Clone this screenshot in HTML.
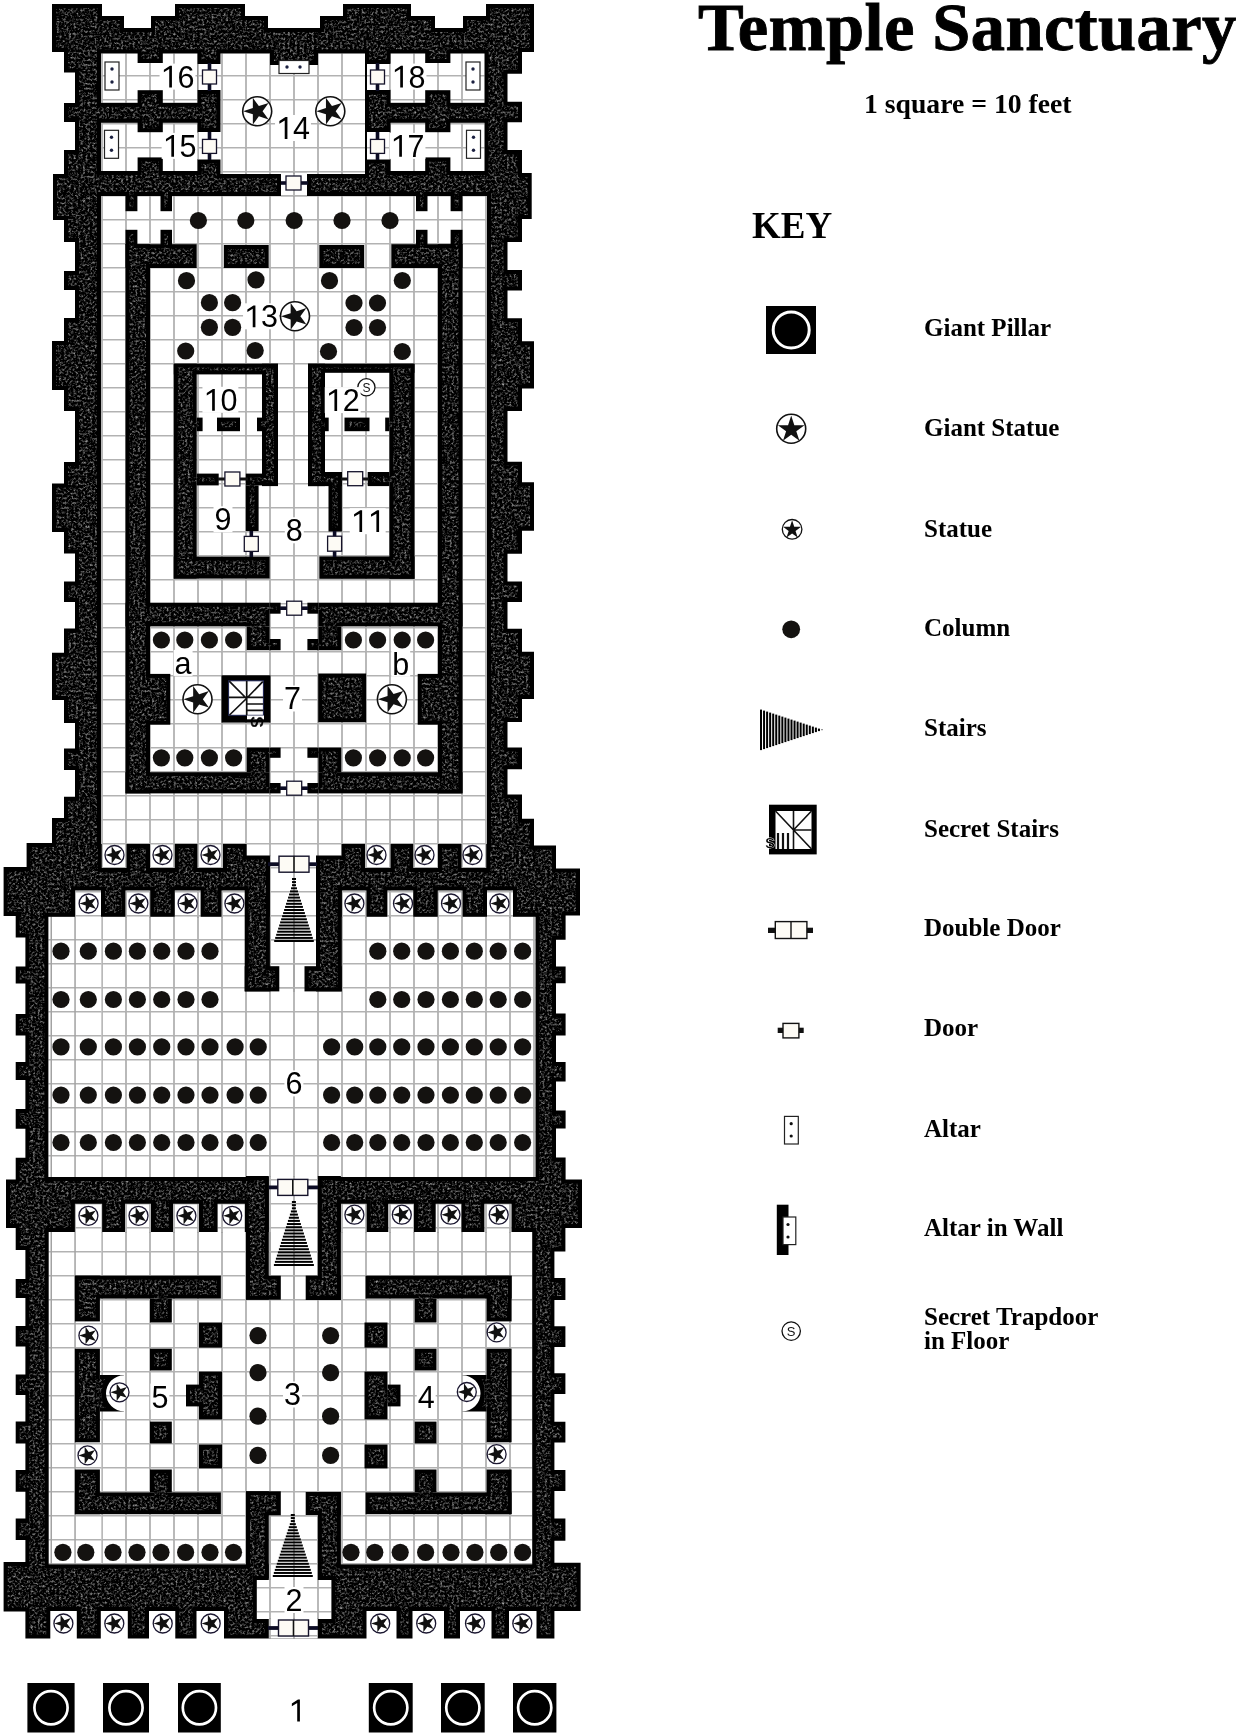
<!DOCTYPE html>
<html><head><meta charset="utf-8"><style>
html,body{margin:0;padding:0;background:#fff;}
body{width:1239px;height:1736px;position:relative;overflow:hidden;will-change:transform;}
.t{position:absolute;font-family:"Liberation Serif",serif;font-weight:bold;white-space:nowrap;color:#000;line-height:1.2;}
.k{position:absolute;left:924px;font-family:"Liberation Serif",serif;font-weight:bold;font-size:25px;white-space:nowrap;color:#000;line-height:30px;}
</style></head><body>
<svg width="600" height="1736" viewBox="0 0 600 1736" style="position:absolute;left:0;top:0"><defs>
<pattern id="grid" patternUnits="userSpaceOnUse" x="6" y="4" width="24" height="24">
<rect x="-0.75" y="0" width="1.5" height="24" fill="#a2a2a2"/><rect x="0" y="-1" width="24" height="1.5" fill="#b2b2b2"/>
<rect x="23.25" y="0" width="1.5" height="24" fill="#a2a2a2"/><rect x="0" y="23" width="24" height="1.5" fill="#b2b2b2"/>
</pattern>
<pattern id="gridh" patternUnits="userSpaceOnUse" x="6" y="4" width="24" height="24"><rect x="0" y="-1" width="24" height="1.5" fill="#b2b2b2"/><rect x="0" y="23" width="24" height="1.5" fill="#b2b2b2"/></pattern>
<mask id="fm" maskUnits="userSpaceOnUse" x="0" y="0" width="600" height="1736">
<rect x="0" y="0" width="600" height="1736" fill="#fff"/>
<g fill="#000"><rect x="220.5" y="53.5" width="73.5" height="120.5"/><rect x="294.0" y="53.5" width="71.0" height="120.5"/><rect x="101.0" y="53.5" width="96.4" height="49.3"/><rect x="101.0" y="122.8" width="96.4" height="48.2"/><rect x="390.6" y="53.5" width="93.9" height="49.3"/><rect x="390.6" y="122.8" width="93.9" height="48.2"/><rect x="197.4" y="64.0" width="23.6" height="26.0"/><rect x="367.0" y="64.0" width="23.6" height="26.0"/><rect x="197.4" y="132.0" width="23.6" height="27.5"/><rect x="367.0" y="132.0" width="23.6" height="27.5"/><rect x="281.0" y="172.0" width="26.0" height="25.0"/><rect x="101.0" y="196.0" width="386.0" height="648.0"/><rect x="101.8" y="843.0" width="24.6" height="25.0"/><rect x="461.6" y="843.0" width="24.6" height="25.0"/><rect x="150.0" y="843.0" width="24.7" height="25.0"/><rect x="413.3" y="843.0" width="24.7" height="25.0"/><rect x="197.5" y="843.0" width="25.5" height="25.0"/><rect x="365.0" y="843.0" width="25.5" height="25.0"/><rect x="246.7" y="843.0" width="94.8" height="13.5"/><rect x="269.9" y="855.0" width="46.1" height="137.0"/><rect x="75.0" y="890.5" width="26.0" height="27.5"/><rect x="487.0" y="890.5" width="26.0" height="27.5"/><rect x="125.5" y="890.5" width="24.7" height="27.5"/><rect x="437.8" y="890.5" width="24.7" height="27.5"/><rect x="174.8" y="890.5" width="25.8" height="27.5"/><rect x="387.4" y="890.5" width="25.8" height="27.5"/><rect x="221.6" y="890.5" width="24.6" height="27.5"/><rect x="341.8" y="890.5" width="24.6" height="27.5"/><rect x="48.4" y="916.8" width="487.1" height="260.2"/><rect x="268.8" y="1176.0" width="49.1" height="124.0"/><rect x="74.9" y="1203.8" width="27.2" height="29.2"/><rect x="125.0" y="1203.8" width="26.0" height="29.2"/><rect x="173.0" y="1203.8" width="26.0" height="29.2"/><rect x="217.6" y="1203.8" width="27.2" height="29.2"/><rect x="341.0" y="1203.8" width="25.6" height="29.2"/><rect x="388.3" y="1203.8" width="25.7" height="29.2"/><rect x="435.7" y="1203.8" width="25.7" height="29.2"/><rect x="484.4" y="1203.8" width="27.1" height="29.2"/><rect x="48.7" y="1232.0" width="483.5" height="332.3"/><rect x="268.8" y="1515.0" width="49.1" height="65.0"/><rect x="256.8" y="1578.5" width="74.6" height="40.5"/><rect x="268.8" y="1618.0" width="49.2" height="20.5"/></g>
</mask>
<filter id="tex" color-interpolation-filters="sRGB" filterUnits="userSpaceOnUse" x="0" y="0" width="600" height="1736">
<feTurbulence type="fractalNoise" baseFrequency="0.42" numOctaves="3" seed="11" result="n"/>
<feColorMatrix in="n" type="matrix" values="1.35 0 0 0 -0.62  1.35 0 0 0 -0.62  1.35 0 0 0 -0.62  0 0 0 0 1" result="spk"/>
<feMorphology in="SourceAlpha" operator="erode" radius="4" result="inner"/>
<feComposite in="spk" in2="inner" operator="in" result="spkIn"/>
<feMerge><feMergeNode in="SourceGraphic"/><feMergeNode in="spkIn"/></feMerge>
</filter>
</defs><g fill="#fff"><rect x="220.5" y="53.5" width="73.5" height="120.5"/><rect x="294.0" y="53.5" width="71.0" height="120.5"/><rect x="101.0" y="53.5" width="96.4" height="49.3"/><rect x="101.0" y="122.8" width="96.4" height="48.2"/><rect x="390.6" y="53.5" width="93.9" height="49.3"/><rect x="390.6" y="122.8" width="93.9" height="48.2"/><rect x="197.4" y="64.0" width="23.6" height="26.0"/><rect x="367.0" y="64.0" width="23.6" height="26.0"/><rect x="197.4" y="132.0" width="23.6" height="27.5"/><rect x="367.0" y="132.0" width="23.6" height="27.5"/><rect x="281.0" y="172.0" width="26.0" height="25.0"/><rect x="101.0" y="196.0" width="386.0" height="648.0"/><rect x="101.8" y="843.0" width="24.6" height="25.0"/><rect x="461.6" y="843.0" width="24.6" height="25.0"/><rect x="150.0" y="843.0" width="24.7" height="25.0"/><rect x="413.3" y="843.0" width="24.7" height="25.0"/><rect x="197.5" y="843.0" width="25.5" height="25.0"/><rect x="365.0" y="843.0" width="25.5" height="25.0"/><rect x="246.7" y="843.0" width="94.8" height="13.5"/><rect x="269.9" y="855.0" width="46.1" height="137.0"/><rect x="75.0" y="890.5" width="26.0" height="27.5"/><rect x="487.0" y="890.5" width="26.0" height="27.5"/><rect x="125.5" y="890.5" width="24.7" height="27.5"/><rect x="437.8" y="890.5" width="24.7" height="27.5"/><rect x="174.8" y="890.5" width="25.8" height="27.5"/><rect x="387.4" y="890.5" width="25.8" height="27.5"/><rect x="221.6" y="890.5" width="24.6" height="27.5"/><rect x="341.8" y="890.5" width="24.6" height="27.5"/><rect x="48.4" y="916.8" width="487.1" height="260.2"/><rect x="268.8" y="1176.0" width="49.1" height="124.0"/><rect x="74.9" y="1203.8" width="27.2" height="29.2"/><rect x="125.0" y="1203.8" width="26.0" height="29.2"/><rect x="173.0" y="1203.8" width="26.0" height="29.2"/><rect x="217.6" y="1203.8" width="27.2" height="29.2"/><rect x="341.0" y="1203.8" width="25.6" height="29.2"/><rect x="388.3" y="1203.8" width="25.7" height="29.2"/><rect x="435.7" y="1203.8" width="25.7" height="29.2"/><rect x="484.4" y="1203.8" width="27.1" height="29.2"/><rect x="48.7" y="1232.0" width="483.5" height="332.3"/><rect x="268.8" y="1515.0" width="49.1" height="65.0"/><rect x="256.8" y="1578.5" width="74.6" height="40.5"/><rect x="268.8" y="1618.0" width="49.2" height="20.5"/></g><g fill="url(#grid)"><rect x="220.5" y="53.5" width="73.5" height="120.5"/><rect x="294.0" y="53.5" width="71.0" height="120.5"/><rect x="101.0" y="53.5" width="96.4" height="49.3"/><rect x="101.0" y="122.8" width="96.4" height="48.2"/><rect x="390.6" y="53.5" width="93.9" height="49.3"/><rect x="390.6" y="122.8" width="93.9" height="48.2"/><rect x="197.4" y="64.0" width="23.6" height="26.0"/><rect x="367.0" y="64.0" width="23.6" height="26.0"/><rect x="197.4" y="132.0" width="23.6" height="27.5"/><rect x="367.0" y="132.0" width="23.6" height="27.5"/><rect x="281.0" y="172.0" width="26.0" height="25.0"/><rect x="101.0" y="196.0" width="386.0" height="648.0"/><rect x="101.8" y="843.0" width="24.6" height="25.0"/><rect x="461.6" y="843.0" width="24.6" height="25.0"/><rect x="150.0" y="843.0" width="24.7" height="25.0"/><rect x="413.3" y="843.0" width="24.7" height="25.0"/><rect x="197.5" y="843.0" width="25.5" height="25.0"/><rect x="365.0" y="843.0" width="25.5" height="25.0"/><rect x="246.7" y="843.0" width="94.8" height="13.5"/><rect x="269.9" y="855.0" width="46.1" height="137.0"/><rect x="75.0" y="890.5" width="26.0" height="27.5"/><rect x="487.0" y="890.5" width="26.0" height="27.5"/><rect x="125.5" y="890.5" width="24.7" height="27.5"/><rect x="437.8" y="890.5" width="24.7" height="27.5"/><rect x="174.8" y="890.5" width="25.8" height="27.5"/><rect x="387.4" y="890.5" width="25.8" height="27.5"/><rect x="221.6" y="890.5" width="24.6" height="27.5"/><rect x="341.8" y="890.5" width="24.6" height="27.5"/><rect x="48.4" y="916.8" width="487.1" height="260.2"/><rect x="268.8" y="1176.0" width="49.1" height="124.0"/><rect x="74.9" y="1203.8" width="27.2" height="29.2"/><rect x="125.0" y="1203.8" width="26.0" height="29.2"/><rect x="173.0" y="1203.8" width="26.0" height="29.2"/><rect x="217.6" y="1203.8" width="27.2" height="29.2"/><rect x="341.0" y="1203.8" width="25.6" height="29.2"/><rect x="388.3" y="1203.8" width="25.7" height="29.2"/><rect x="435.7" y="1203.8" width="25.7" height="29.2"/><rect x="484.4" y="1203.8" width="27.1" height="29.2"/><rect x="48.7" y="1232.0" width="483.5" height="332.3"/><rect x="268.8" y="1515.0" width="49.1" height="65.0"/><rect x="256.8" y="1578.5" width="74.6" height="40.5"/><rect x="268.8" y="1618.0" width="49.2" height="20.5"/></g><rect x="48.4" y="890.5" width="52.9" height="286.5" fill="#fff"/><rect x="48.4" y="890.5" width="52.9" height="286.5" fill="url(#gridh)"/><rect x="50.5" y="890.5" width="1.5" height="286.5" fill="#a2a2a2"/><rect x="74.3" y="890.5" width="1.5" height="286.5" fill="#a2a2a2"/><rect x="48.4" y="1203.8" width="52.9" height="360.5" fill="#fff"/><rect x="48.4" y="1203.8" width="52.9" height="360.5" fill="url(#gridh)"/><rect x="50.5" y="1203.8" width="1.5" height="360.5" fill="#a2a2a2"/><rect x="74.3" y="1203.8" width="1.5" height="360.5" fill="#a2a2a2"/><g filter="url(#tex)"><path d="M52 4 L102 4 L102 16 L124 16 L124 28 L151 28 L151 16 L175 16 L175 4 L245 4 L245 16 L268 16 L268 28 L320 28 L320 16 L343 16 L343 4 L411 4 L411 16 L435 16 L435 28 L463 28 L463 16 L486 16 L486 4 L534 4 L534 52 L522 52 L522 73.8 L507.5 73.8 L507.5 101.7 L522 101.7 L522 122.2 L507.5 122.2 L507.5 150 L522 150 L522 173 L531.7 173 L531.7 219 L522 219 L522 242 L507.5 242 L507.5 270 L522 270 L522 290.5 L507.5 290.5 L507.5 318.3 L522 318.3 L522 341.3 L534 341.3 L534 388.5 L522 388.5 L522 411 L507.5 411 L507.5 461.7 L522 461.7 L522 482.3 L534 482.3 L534 530.7 L522 530.7 L522 553.7 L507.5 553.7 L507.5 581.6 L522 581.6 L522 602 L507.5 602 L507.5 628.8 L522 628.8 L522 651.8 L534 651.8 L534 699 L522 699 L522 722 L507.5 722 L507.5 747.4 L522 747.4 L522 769.2 L507.5 769.2 L507.5 794.5 L522 794.5 L522 818.7 L534 818.7 L534 845.4 L556 845.4 L556 868.4 L580 868.4 L580 915.6 L565.6 915.6 L565.6 939.8 L556 939.8 L556 966.4 L565.6 966.4 L565.6 983.3 L556 983.3 L556 1013.6 L565.6 1013.6 L565.6 1035.4 L556 1035.4 L556 1062 L565.6 1062 L565.6 1081.4 L556 1081.4 L556 1110.4 L565.6 1110.4 L565.6 1128.6 L556 1128.6 L556 1157.6 L565.6 1157.6 L565.6 1179.5 L582 1179.5 L582 1228 L565.4 1228 L565.4 1251.6 L554.4 1251.6 L554.4 1278 L565.4 1278 L565.4 1300 L554.4 1300 L554.4 1326.3 L565.4 1326.3 L565.4 1347 L554.4 1347 L554.4 1373.3 L565.4 1373.3 L565.4 1394 L554.4 1394 L554.4 1421.7 L565.4 1421.7 L565.4 1442.5 L554.4 1442.5 L554.4 1470 L565.4 1470 L565.4 1491 L554.4 1491 L554.4 1518.5 L565.4 1518.5 L565.4 1540.7 L554.4 1540.7 L554.4 1562.8 L580.6 1562.8 L580.6 1611 L554.4 1611 L554.4 1638.5 L536.5 1638.5 L536.5 1611 L509 1611 L509 1638.5 L491.5 1638.5 L491.5 1611 L460 1611 L460 1638.5 L444 1638.5 L444 1611 L412.5 1611 L412.5 1638.5 L396.5 1638.5 L396.5 1611 L366.5 1611 L366.5 1638.5 L224 1638.5 L224 1611 L196.5 1611 L196.5 1638.5 L175.3 1638.5 L175.3 1611 L149 1611 L149 1638.5 L127.8 1638.5 L127.8 1611 L100.8 1611 L100.8 1638.5 L76.8 1638.5 L76.8 1611 L50.3 1611 L50.3 1638.5 L25.4 1638.5 L25.4 1611.4 L3.6 1611.4 L3.6 1562 L25.4 1562 L25.4 1540 L15.7 1540 L15.7 1518.4 L25.4 1518.4 L25.4 1491.8 L15.7 1491.8 L15.7 1470 L25.4 1470 L25.4 1443.4 L15.7 1443.4 L15.7 1421.6 L25.4 1421.6 L25.4 1395 L15.7 1395 L15.7 1374.5 L25.4 1374.5 L25.4 1346.6 L15.7 1346.6 L15.7 1326 L25.4 1326 L25.4 1298 L15.7 1298 L15.7 1279 L25.4 1279 L25.4 1250 L15.7 1250 L15.7 1228 L6 1228 L6 1179.5 L15.7 1179.5 L15.7 1157.8 L25.4 1157.8 L25.4 1128.7 L15.7 1128.7 L15.7 1109 L25.4 1109 L25.4 1080 L15.7 1080 L15.7 1062 L25.4 1062 L25.4 1035.6 L15.7 1035.6 L15.7 1014 L25.4 1014 L25.4 983.6 L15.7 983.6 L15.7 966.6 L25.4 966.6 L25.4 937.6 L15.7 937.6 L15.7 916 L3.6 916 L3.6 867 L26.6 867 L26.6 843 L52 843 L52 818 L64 818 L64 796.8 L75 796.8 L75 770 L64 770 L64 748.4 L75 748.4 L75 723 L64 723 L64 700 L52 700 L52 652.8 L64 652.8 L64 628.6 L75 628.6 L75 602 L64 602 L64 581.5 L75 581.5 L75 553.6 L64 553.6 L64 532 L52 532 L52 483.5 L64 483.5 L64 462 L75 462 L75 411 L64 411 L64 390 L52 390 L52 341 L64 341 L64 318 L75 318 L75 290 L64 290 L64 271 L75 271 L75 242 L64 242 L64 220 L53 220 L53 174 L64 174 L64 150 L75 150 L75 122 L64 122 L64 103 L75 103 L75 72.6 L64 72.6 L64 52 L52 52 L52 4 Z" fill="#000" mask="url(#fm)"/><g fill="#000"><rect x="137.6" y="52.0" width="25.2" height="11.0"/><rect x="425.2" y="52.0" width="25.2" height="11.0"/><rect x="137.6" y="90.2" width="25.2" height="13.8"/><rect x="425.2" y="90.2" width="25.2" height="13.8"/><rect x="137.6" y="121.5" width="25.2" height="10.7"/><rect x="425.2" y="121.5" width="25.2" height="10.7"/><rect x="137.6" y="157.4" width="25.2" height="14.6"/><rect x="425.2" y="157.4" width="25.2" height="14.6"/><rect x="270.0" y="52.0" width="48.0" height="13.0"/><rect x="125.5" y="195.0" width="11.9" height="16.2"/><rect x="450.6" y="195.0" width="11.9" height="16.2"/><rect x="160.5" y="195.0" width="11.5" height="16.2"/><rect x="416.0" y="195.0" width="11.5" height="16.2"/><rect x="125.5" y="229.8" width="11.9" height="15.2"/><rect x="450.6" y="229.8" width="11.9" height="15.2"/><rect x="160.5" y="229.8" width="11.5" height="15.2"/><rect x="416.0" y="229.8" width="11.5" height="15.2"/><rect x="125.5" y="244.2" width="24.5" height="549.2"/><rect x="438.0" y="244.2" width="24.5" height="549.2"/><rect x="125.5" y="244.2" width="71.2" height="23.8"/><rect x="391.3" y="244.2" width="71.2" height="23.8"/><rect x="223.8" y="245.0" width="44.9" height="23.0"/><rect x="319.3" y="245.0" width="44.9" height="23.0"/><rect x="125.5" y="602.7" width="144.1" height="23.7"/><rect x="318.4" y="602.7" width="144.1" height="23.7"/><rect x="269.6" y="602.7" width="11.0" height="11.0"/><rect x="307.4" y="602.7" width="11.0" height="11.0"/><rect x="246.7" y="626.4" width="22.9" height="23.8"/><rect x="318.4" y="626.4" width="22.9" height="23.8"/><rect x="269.6" y="639.0" width="11.0" height="11.2"/><rect x="307.4" y="639.0" width="11.0" height="11.2"/><rect x="246.7" y="747.6" width="22.9" height="24.6"/><rect x="318.4" y="747.6" width="22.9" height="24.6"/><rect x="269.6" y="747.6" width="11.0" height="10.2"/><rect x="307.4" y="747.6" width="11.0" height="10.2"/><rect x="125.5" y="772.2" width="144.1" height="21.2"/><rect x="318.4" y="772.2" width="144.1" height="21.2"/><rect x="269.6" y="783.0" width="11.0" height="10.4"/><rect x="307.4" y="783.0" width="11.0" height="10.4"/><rect x="148.4" y="673.9" width="21.9" height="50.8"/><rect x="417.7" y="673.9" width="21.9" height="50.8"/><rect x="318.2" y="673.5" width="47.9" height="48.8"/><rect x="173.8" y="363.7" width="22.9" height="214.9"/><rect x="173.8" y="363.7" width="104.2" height="10.7"/><rect x="262.0" y="363.7" width="16.0" height="122.4"/><rect x="173.8" y="556.6" width="95.8" height="22.0"/><rect x="196.7" y="473.6" width="22.0" height="11.8"/><rect x="245.8" y="473.6" width="16.2" height="11.8"/><rect x="245.8" y="485.4" width="12.8" height="45.6"/><rect x="217.0" y="417.6" width="23.0" height="13.6"/><rect x="196.7" y="417.6" width="5.9" height="13.6"/><rect x="257.0" y="417.6" width="5.0" height="13.6"/><rect x="308.0" y="363.7" width="17.0" height="122.4"/><rect x="308.0" y="363.7" width="106.5" height="9.1"/><rect x="389.4" y="363.7" width="25.1" height="215.1"/><rect x="319.3" y="556.4" width="95.2" height="22.4"/><rect x="308.0" y="472.0" width="34.0" height="14.1"/><rect x="367.7" y="472.0" width="21.7" height="14.1"/><rect x="328.5" y="486.0" width="13.4" height="45.5"/><rect x="344.5" y="417.6" width="25.0" height="13.6"/><rect x="324.3" y="417.6" width="4.4" height="13.6"/><rect x="385.2" y="417.6" width="4.2" height="13.6"/><rect x="244.7" y="855.5" width="25.2" height="135.9"/><rect x="244.7" y="966.2" width="34.6" height="25.2"/><rect x="316.0" y="855.5" width="25.8" height="135.9"/><rect x="304.5" y="966.2" width="37.3" height="25.2"/><rect x="246.0" y="1176.0" width="22.8" height="123.7"/><rect x="246.0" y="1275.7" width="34.8" height="24.0"/><rect x="317.9" y="1176.0" width="23.0" height="124.0"/><rect x="305.7" y="1275.6" width="35.2" height="24.4"/><rect x="74.9" y="1275.7" width="146.0" height="22.9"/><rect x="365.6" y="1275.7" width="146.0" height="22.9"/><rect x="74.9" y="1275.7" width="25.0" height="45.7"/><rect x="486.6" y="1275.7" width="25.0" height="45.7"/><rect x="150.0" y="1298.6" width="21.8" height="23.9"/><rect x="414.7" y="1298.6" width="21.8" height="23.9"/><rect x="199.0" y="1322.5" width="23.0" height="25.1"/><rect x="364.5" y="1322.5" width="23.0" height="25.1"/><rect x="150.0" y="1348.7" width="21.8" height="21.8"/><rect x="414.7" y="1348.7" width="21.8" height="21.8"/><rect x="74.9" y="1348.7" width="25.0" height="93.6"/><rect x="486.6" y="1348.7" width="25.0" height="93.6"/><rect x="199.0" y="1371.6" width="23.0" height="47.8"/><rect x="364.5" y="1371.6" width="23.0" height="47.8"/><rect x="186.0" y="1384.6" width="13.0" height="21.8"/><rect x="387.5" y="1384.6" width="13.0" height="21.8"/><rect x="150.0" y="1421.6" width="21.8" height="21.8"/><rect x="414.7" y="1421.6" width="21.8" height="21.8"/><rect x="199.0" y="1444.5" width="23.0" height="23.9"/><rect x="364.5" y="1444.5" width="23.0" height="23.9"/><rect x="74.9" y="1469.5" width="25.0" height="44.7"/><rect x="486.6" y="1469.5" width="25.0" height="44.7"/><rect x="74.9" y="1492.4" width="146.0" height="21.8"/><rect x="365.6" y="1492.4" width="146.0" height="21.8"/><rect x="150.0" y="1469.5" width="21.8" height="22.9"/><rect x="414.7" y="1469.5" width="21.8" height="22.9"/><rect x="246.0" y="1491.3" width="22.8" height="88.7"/><rect x="246.0" y="1491.3" width="34.8" height="24.0"/><rect x="317.9" y="1492.0" width="23.0" height="88.0"/><rect x="305.7" y="1492.0" width="35.2" height="23.0"/></g><g fill="#000"><path d="M99.9 1375 H124 V1375.3 A18 18 0 0 0 124 1411.3 V1411.6 H99.9 Z"/><path d="M486.6 1375 H462.5 V1375.3 A18 18 0 0 1 462.5 1411.3 V1411.6 H486.6 Z"/></g></g><g font-family="Liberation Sans, sans-serif" fill="#000"><rect x="207.7" y="63" width="3.6" height="28" fill="#0c0c24"/><rect x="202.5" y="70" width="14" height="14" fill="#fdfbf5" stroke="#15132a" stroke-width="1.3"/><rect x="375.7" y="63" width="3.6" height="28" fill="#0c0c24"/><rect x="370.5" y="70" width="14" height="14" fill="#fdfbf5" stroke="#15132a" stroke-width="1.3"/><rect x="207.7" y="132" width="3.6" height="28" fill="#0c0c24"/><rect x="202.5" y="139.4" width="14" height="14" fill="#fdfbf5" stroke="#15132a" stroke-width="1.3"/><rect x="375.7" y="132" width="3.6" height="28" fill="#0c0c24"/><rect x="370.5" y="139.4" width="14" height="14" fill="#fdfbf5" stroke="#15132a" stroke-width="1.3"/><rect x="281" y="181.2" width="27" height="3.6" fill="#0c0c24"/><rect x="286" y="176" width="15" height="14" fill="#fdfbf5" stroke="#15132a" stroke-width="1.3"/><rect x="105" y="62" width="14" height="28" fill="#fff" stroke="#222" stroke-width="1.2"/><circle cx="112" cy="69" r="1.7" fill="#1b2040"/><circle cx="112" cy="82" r="1.7" fill="#1b2040"/><rect x="104.5" y="130.3" width="14" height="28" fill="#fff" stroke="#222" stroke-width="1.2"/><circle cx="111.5" cy="137.3" r="1.7" fill="#1b2040"/><circle cx="111.5" cy="150.3" r="1.7" fill="#1b2040"/><rect x="466" y="62" width="14" height="28" fill="#fff" stroke="#222" stroke-width="1.2"/><circle cx="473" cy="69" r="1.7" fill="#1b2040"/><circle cx="473" cy="82" r="1.7" fill="#1b2040"/><rect x="466.5" y="130.3" width="14" height="28" fill="#fff" stroke="#222" stroke-width="1.2"/><circle cx="473.5" cy="137.3" r="1.7" fill="#1b2040"/><circle cx="473.5" cy="150.3" r="1.7" fill="#1b2040"/><rect x="279" y="60.5" width="30" height="13" fill="#fff" stroke="#222" stroke-width="1.2"/><circle cx="287" cy="67" r="1.7" fill="#1b2040"/><circle cx="300" cy="67" r="1.7" fill="#1b2040"/><circle cx="257.2" cy="111.2" r="14.5" fill="#fff" stroke="#111" stroke-width="1.6"/><polygon points="243.13,111.20 252.85,108.04 252.85,97.82 258.86,106.09 268.58,102.93 262.57,111.20 268.58,119.47 258.86,116.31 252.85,124.58 252.85,114.36" fill="#111"/><circle cx="330.3" cy="111.2" r="14.5" fill="#fff" stroke="#111" stroke-width="1.6"/><polygon points="316.24,111.20 325.95,108.04 325.95,97.82 331.96,106.09 341.68,102.93 335.67,111.20 341.68,119.47 331.96,116.31 325.95,124.58 325.95,114.36" fill="#111"/><circle cx="198.4" cy="220.5" r="8.6" fill="#141210"/><circle cx="245.8" cy="220.5" r="8.6" fill="#141210"/><circle cx="294.2" cy="220.5" r="8.6" fill="#141210"/><circle cx="342" cy="220.5" r="8.6" fill="#141210"/><circle cx="390" cy="220.5" r="8.6" fill="#141210"/><circle cx="186.5" cy="280.7" r="8.6" fill="#141210"/><circle cx="256" cy="279.8" r="8.6" fill="#141210"/><circle cx="209.4" cy="302.7" r="8.6" fill="#141210"/><circle cx="232.6" cy="302.7" r="8.6" fill="#141210"/><circle cx="209.4" cy="327.3" r="8.6" fill="#141210"/><circle cx="232.6" cy="327.3" r="8.6" fill="#141210"/><circle cx="185.7" cy="351" r="8.6" fill="#141210"/><circle cx="255.2" cy="350.5" r="8.6" fill="#141210"/><circle cx="329.5" cy="280.7" r="8.6" fill="#141210"/><circle cx="402.3" cy="280.5" r="8.6" fill="#141210"/><circle cx="354" cy="303" r="8.6" fill="#141210"/><circle cx="377.5" cy="303" r="8.6" fill="#141210"/><circle cx="354" cy="327.5" r="8.6" fill="#141210"/><circle cx="377.5" cy="327.5" r="8.6" fill="#141210"/><circle cx="328.5" cy="351.5" r="8.6" fill="#141210"/><circle cx="402.3" cy="351.5" r="8.6" fill="#141210"/><circle cx="295" cy="316.3" r="14.5" fill="#fff" stroke="#111" stroke-width="1.6"/><polygon points="280.94,316.30 290.65,313.14 290.65,302.92 296.66,311.19 306.38,308.03 300.37,316.30 306.38,324.57 296.66,321.41 290.65,329.68 290.65,319.46" fill="#111"/><rect x="218" y="477.5" width="30" height="3" fill="#111"/><rect x="341" y="477.5" width="28" height="3" fill="#111"/><rect x="224.9" y="472" width="15" height="14" fill="#fdfbf5" stroke="#15132a" stroke-width="1.3"/><rect x="347.7" y="471.7" width="15" height="14" fill="#fdfbf5" stroke="#15132a" stroke-width="1.3"/><rect x="249.5" y="531" width="3.6" height="26" fill="#0c0c24"/><rect x="244.3" y="536.4" width="14" height="15" fill="#fdfbf5" stroke="#15132a" stroke-width="1.3"/><rect x="332.8" y="531" width="3.6" height="26" fill="#0c0c24"/><rect x="327.6" y="536.2" width="14" height="15" fill="#fdfbf5" stroke="#15132a" stroke-width="1.3"/><circle cx="366.4" cy="387.3" r="8.6" fill="#fff" stroke="#111" stroke-width="1.3"/><text x="366.4" y="387.8" font-size="12" text-anchor="middle" dominant-baseline="central" fill="#111">S</text><rect x="280" y="606.4" width="28" height="3.6" fill="#0c0c24"/><rect x="286.7" y="601.2" width="15" height="14" fill="#fdfbf5" stroke="#15132a" stroke-width="1.3"/><rect x="280" y="786.4" width="28" height="3.6" fill="#0c0c24"/><rect x="286.7" y="781.2" width="15" height="14" fill="#fdfbf5" stroke="#15132a" stroke-width="1.3"/><circle cx="161.4" cy="640" r="8.6" fill="#141210"/><circle cx="161.4" cy="757.8" r="8.6" fill="#141210"/><circle cx="425.6" cy="640" r="8.6" fill="#141210"/><circle cx="425.6" cy="757.8" r="8.6" fill="#141210"/><circle cx="184.8" cy="640" r="8.6" fill="#141210"/><circle cx="184.8" cy="757.8" r="8.6" fill="#141210"/><circle cx="402.2" cy="640" r="8.6" fill="#141210"/><circle cx="402.2" cy="757.8" r="8.6" fill="#141210"/><circle cx="209.4" cy="640" r="8.6" fill="#141210"/><circle cx="209.4" cy="757.8" r="8.6" fill="#141210"/><circle cx="377.6" cy="640" r="8.6" fill="#141210"/><circle cx="377.6" cy="757.8" r="8.6" fill="#141210"/><circle cx="233.6" cy="640" r="8.6" fill="#141210"/><circle cx="233.6" cy="757.8" r="8.6" fill="#141210"/><circle cx="353.4" cy="640" r="8.6" fill="#141210"/><circle cx="353.4" cy="757.8" r="8.6" fill="#141210"/><circle cx="197.5" cy="699.3" r="14.5" fill="#fff" stroke="#111" stroke-width="1.6"/><polygon points="183.44,699.30 193.15,696.14 193.15,685.92 199.16,694.19 208.88,691.03 202.87,699.30 208.88,707.57 199.16,704.41 193.15,712.68 193.15,702.46" fill="#111"/><circle cx="391.9" cy="699.2" r="14.5" fill="#fff" stroke="#111" stroke-width="1.6"/><polygon points="377.83,699.20 387.55,696.04 387.55,685.82 393.56,694.09 403.28,690.93 397.27,699.20 403.28,707.47 393.56,704.31 387.55,712.58 387.55,702.36" fill="#111"/><rect x="221.5" y="675.3" width="49" height="47.3" fill="#000"/><rect x="228.6" y="680.8" width="34.8" height="34.5" fill="#fff" stroke="#1a2050" stroke-width="1"/><path d="M229.2 681.2 L246.5 698.5 M262.8 681.6 L246.5 698.5 M229.5 715 L246.5 698.5 M246.7 681 V715.5 M228.6 697.3 H263.4" stroke="#111" stroke-width="1.7" fill="none"/><path d="M247 704 H263.4 M247 710.3 H263.4" stroke="#111" stroke-width="1.7"/><rect x="247" y="715.5" width="17" height="3.8" fill="#fff"/><text x="0" y="0" font-size="17" text-anchor="middle" dominant-baseline="central" fill="#000" stroke="#000" stroke-width="0.5" transform="translate(256 722) rotate(90)">S</text><circle cx="114.5" cy="855" r="9.5" fill="#fff" stroke="#1a1630" stroke-width="1.3"/><polygon points="105.28,855.00 111.65,852.93 111.65,846.24 115.59,851.65 121.96,849.58 118.02,855.00 121.96,860.42 115.59,858.35 111.65,863.76 111.65,857.07" fill="#111"/><circle cx="472.5" cy="855" r="9.5" fill="#fff" stroke="#1a1630" stroke-width="1.3"/><polygon points="463.29,855.00 469.65,852.93 469.65,846.24 473.59,851.65 479.96,849.58 476.02,855.00 479.96,860.42 473.59,858.35 469.65,863.76 469.65,857.07" fill="#111"/><circle cx="162.5" cy="855" r="9.5" fill="#fff" stroke="#1a1630" stroke-width="1.3"/><polygon points="153.28,855.00 159.65,852.93 159.65,846.24 163.59,851.65 169.96,849.58 166.02,855.00 169.96,860.42 163.59,858.35 159.65,863.76 159.65,857.07" fill="#111"/><circle cx="424.5" cy="855" r="9.5" fill="#fff" stroke="#1a1630" stroke-width="1.3"/><polygon points="415.29,855.00 421.65,852.93 421.65,846.24 425.59,851.65 431.96,849.58 428.02,855.00 431.96,860.42 425.59,858.35 421.65,863.76 421.65,857.07" fill="#111"/><circle cx="210.5" cy="855" r="9.5" fill="#fff" stroke="#1a1630" stroke-width="1.3"/><polygon points="201.28,855.00 207.65,852.93 207.65,846.24 211.59,851.65 217.96,849.58 214.02,855.00 217.96,860.42 211.59,858.35 207.65,863.76 207.65,857.07" fill="#111"/><circle cx="376.5" cy="855" r="9.5" fill="#fff" stroke="#1a1630" stroke-width="1.3"/><polygon points="367.29,855.00 373.65,852.93 373.65,846.24 377.59,851.65 383.96,849.58 380.02,855.00 383.96,860.42 377.59,858.35 373.65,863.76 373.65,857.07" fill="#111"/><rect x="268" y="862.3" width="49" height="3.8" fill="#0c0c24"/><rect x="279" y="856.2" width="30" height="16" fill="#fdfbf5" stroke="#15132a" stroke-width="1.4"/><rect x="293.2" y="856.2" width="1.6" height="16" fill="#111"/><rect x="292.00" y="878.00" width="4.00" height="2" fill="#000"/><rect x="292.00" y="881.10" width="4.00" height="2" fill="#000"/><rect x="292.00" y="884.20" width="4.00" height="2" fill="#000"/><rect x="291.03" y="887.30" width="5.94" height="2" fill="#000"/><rect x="290.04" y="890.40" width="7.92" height="2" fill="#000"/><rect x="289.05" y="893.50" width="9.90" height="2" fill="#000"/><rect x="288.06" y="896.60" width="11.88" height="2" fill="#000"/><rect x="287.07" y="899.70" width="13.86" height="2" fill="#000"/><rect x="286.08" y="902.80" width="15.84" height="2" fill="#000"/><rect x="285.09" y="905.90" width="17.82" height="2" fill="#000"/><rect x="284.10" y="909.00" width="19.80" height="2" fill="#000"/><rect x="283.11" y="912.10" width="21.78" height="2" fill="#000"/><rect x="282.12" y="915.20" width="23.76" height="2" fill="#000"/><rect x="281.13" y="918.30" width="25.74" height="2" fill="#000"/><rect x="280.14" y="921.40" width="27.72" height="2" fill="#000"/><rect x="279.15" y="924.50" width="29.70" height="2" fill="#000"/><rect x="278.16" y="927.60" width="31.68" height="2" fill="#000"/><rect x="277.17" y="930.70" width="33.66" height="2" fill="#000"/><rect x="276.18" y="933.80" width="35.64" height="2" fill="#000"/><rect x="275.19" y="936.90" width="37.62" height="2" fill="#000"/><rect x="274.20" y="940.00" width="39.60" height="2" fill="#000"/><circle cx="88.6" cy="903.5" r="9.5" fill="#fff" stroke="#1a1630" stroke-width="1.3"/><polygon points="79.38,903.50 85.75,901.43 85.75,894.74 89.69,900.15 96.06,898.08 92.12,903.50 96.06,908.92 89.69,906.85 85.75,912.26 85.75,905.57" fill="#111"/><circle cx="138.4" cy="903.5" r="9.5" fill="#fff" stroke="#1a1630" stroke-width="1.3"/><polygon points="129.19,903.50 135.55,901.43 135.55,894.74 139.49,900.15 145.86,898.08 141.92,903.50 145.86,908.92 139.49,906.85 135.55,912.26 135.55,905.57" fill="#111"/><circle cx="187.6" cy="903.5" r="9.5" fill="#fff" stroke="#1a1630" stroke-width="1.3"/><polygon points="178.38,903.50 184.75,901.43 184.75,894.74 188.69,900.15 195.06,898.08 191.12,903.50 195.06,908.92 188.69,906.85 184.75,912.26 184.75,905.57" fill="#111"/><circle cx="234.4" cy="903.5" r="9.5" fill="#fff" stroke="#1a1630" stroke-width="1.3"/><polygon points="225.19,903.50 231.55,901.43 231.55,894.74 235.49,900.15 241.86,898.08 237.92,903.50 241.86,908.92 235.49,906.85 231.55,912.26 231.55,905.57" fill="#111"/><circle cx="354.4" cy="903.5" r="9.5" fill="#fff" stroke="#1a1630" stroke-width="1.3"/><polygon points="345.19,903.50 351.55,901.43 351.55,894.74 355.49,900.15 361.86,898.08 357.92,903.50 361.86,908.92 355.49,906.85 351.55,912.26 351.55,905.57" fill="#111"/><circle cx="403" cy="903.5" r="9.5" fill="#fff" stroke="#1a1630" stroke-width="1.3"/><polygon points="393.79,903.50 400.15,901.43 400.15,894.74 404.09,900.15 410.46,898.08 406.52,903.50 410.46,908.92 404.09,906.85 400.15,912.26 400.15,905.57" fill="#111"/><circle cx="451" cy="903.5" r="9.5" fill="#fff" stroke="#1a1630" stroke-width="1.3"/><polygon points="441.79,903.50 448.15,901.43 448.15,894.74 452.09,900.15 458.46,898.08 454.52,903.50 458.46,908.92 452.09,906.85 448.15,912.26 448.15,905.57" fill="#111"/><circle cx="499.5" cy="903.5" r="9.5" fill="#fff" stroke="#1a1630" stroke-width="1.3"/><polygon points="490.29,903.50 496.65,901.43 496.65,894.74 500.59,900.15 506.96,898.08 503.02,903.50 506.96,908.92 500.59,906.85 496.65,912.26 496.65,905.57" fill="#111"/><circle cx="61" cy="951.2" r="8.6" fill="#141210"/><circle cx="88.3" cy="951.2" r="8.6" fill="#141210"/><circle cx="113.4" cy="951.2" r="8.6" fill="#141210"/><circle cx="137.4" cy="951.2" r="8.6" fill="#141210"/><circle cx="161.7" cy="951.2" r="8.6" fill="#141210"/><circle cx="186" cy="951.2" r="8.6" fill="#141210"/><circle cx="210" cy="951.2" r="8.6" fill="#141210"/><circle cx="377.8" cy="951.2" r="8.6" fill="#141210"/><circle cx="401.7" cy="951.2" r="8.6" fill="#141210"/><circle cx="426" cy="951.2" r="8.6" fill="#141210"/><circle cx="450.4" cy="951.2" r="8.6" fill="#141210"/><circle cx="474.3" cy="951.2" r="8.6" fill="#141210"/><circle cx="498.2" cy="951.2" r="8.6" fill="#141210"/><circle cx="522.6" cy="951.2" r="8.6" fill="#141210"/><circle cx="61" cy="999.5" r="8.6" fill="#141210"/><circle cx="88.3" cy="999.5" r="8.6" fill="#141210"/><circle cx="113.4" cy="999.5" r="8.6" fill="#141210"/><circle cx="137.4" cy="999.5" r="8.6" fill="#141210"/><circle cx="161.7" cy="999.5" r="8.6" fill="#141210"/><circle cx="186" cy="999.5" r="8.6" fill="#141210"/><circle cx="210" cy="999.5" r="8.6" fill="#141210"/><circle cx="377.8" cy="999.5" r="8.6" fill="#141210"/><circle cx="401.7" cy="999.5" r="8.6" fill="#141210"/><circle cx="426" cy="999.5" r="8.6" fill="#141210"/><circle cx="450.4" cy="999.5" r="8.6" fill="#141210"/><circle cx="474.3" cy="999.5" r="8.6" fill="#141210"/><circle cx="498.2" cy="999.5" r="8.6" fill="#141210"/><circle cx="522.6" cy="999.5" r="8.6" fill="#141210"/><circle cx="61" cy="1046.9" r="8.6" fill="#141210"/><circle cx="88.3" cy="1046.9" r="8.6" fill="#141210"/><circle cx="113.4" cy="1046.9" r="8.6" fill="#141210"/><circle cx="137.4" cy="1046.9" r="8.6" fill="#141210"/><circle cx="161.7" cy="1046.9" r="8.6" fill="#141210"/><circle cx="186" cy="1046.9" r="8.6" fill="#141210"/><circle cx="210" cy="1046.9" r="8.6" fill="#141210"/><circle cx="235.1" cy="1046.9" r="8.6" fill="#141210"/><circle cx="258.2" cy="1046.9" r="8.6" fill="#141210"/><circle cx="331.6" cy="1046.9" r="8.6" fill="#141210"/><circle cx="354.7" cy="1046.9" r="8.6" fill="#141210"/><circle cx="377.8" cy="1046.9" r="8.6" fill="#141210"/><circle cx="401.7" cy="1046.9" r="8.6" fill="#141210"/><circle cx="426" cy="1046.9" r="8.6" fill="#141210"/><circle cx="450.4" cy="1046.9" r="8.6" fill="#141210"/><circle cx="474.3" cy="1046.9" r="8.6" fill="#141210"/><circle cx="498.2" cy="1046.9" r="8.6" fill="#141210"/><circle cx="522.6" cy="1046.9" r="8.6" fill="#141210"/><circle cx="61" cy="1095.1" r="8.6" fill="#141210"/><circle cx="88.3" cy="1095.1" r="8.6" fill="#141210"/><circle cx="113.4" cy="1095.1" r="8.6" fill="#141210"/><circle cx="137.4" cy="1095.1" r="8.6" fill="#141210"/><circle cx="161.7" cy="1095.1" r="8.6" fill="#141210"/><circle cx="186" cy="1095.1" r="8.6" fill="#141210"/><circle cx="210" cy="1095.1" r="8.6" fill="#141210"/><circle cx="235.1" cy="1095.1" r="8.6" fill="#141210"/><circle cx="258.2" cy="1095.1" r="8.6" fill="#141210"/><circle cx="331.6" cy="1095.1" r="8.6" fill="#141210"/><circle cx="354.7" cy="1095.1" r="8.6" fill="#141210"/><circle cx="377.8" cy="1095.1" r="8.6" fill="#141210"/><circle cx="401.7" cy="1095.1" r="8.6" fill="#141210"/><circle cx="426" cy="1095.1" r="8.6" fill="#141210"/><circle cx="450.4" cy="1095.1" r="8.6" fill="#141210"/><circle cx="474.3" cy="1095.1" r="8.6" fill="#141210"/><circle cx="498.2" cy="1095.1" r="8.6" fill="#141210"/><circle cx="522.6" cy="1095.1" r="8.6" fill="#141210"/><circle cx="61" cy="1142.5" r="8.6" fill="#141210"/><circle cx="88.3" cy="1142.5" r="8.6" fill="#141210"/><circle cx="113.4" cy="1142.5" r="8.6" fill="#141210"/><circle cx="137.4" cy="1142.5" r="8.6" fill="#141210"/><circle cx="161.7" cy="1142.5" r="8.6" fill="#141210"/><circle cx="186" cy="1142.5" r="8.6" fill="#141210"/><circle cx="210" cy="1142.5" r="8.6" fill="#141210"/><circle cx="235.1" cy="1142.5" r="8.6" fill="#141210"/><circle cx="258.2" cy="1142.5" r="8.6" fill="#141210"/><circle cx="331.6" cy="1142.5" r="8.6" fill="#141210"/><circle cx="354.7" cy="1142.5" r="8.6" fill="#141210"/><circle cx="377.8" cy="1142.5" r="8.6" fill="#141210"/><circle cx="401.7" cy="1142.5" r="8.6" fill="#141210"/><circle cx="426" cy="1142.5" r="8.6" fill="#141210"/><circle cx="450.4" cy="1142.5" r="8.6" fill="#141210"/><circle cx="474.3" cy="1142.5" r="8.6" fill="#141210"/><circle cx="498.2" cy="1142.5" r="8.6" fill="#141210"/><circle cx="522.6" cy="1142.5" r="8.6" fill="#141210"/><rect x="269" y="1185.5" width="49" height="3.8" fill="#0c0c24"/><rect x="277.8" y="1179.4" width="30" height="16" fill="#fdfbf5" stroke="#15132a" stroke-width="1.4"/><rect x="292" y="1179.4" width="1.6" height="16" fill="#111"/><rect x="291.90" y="1201.00" width="4.00" height="2" fill="#000"/><rect x="291.90" y="1204.15" width="4.00" height="2" fill="#000"/><rect x="291.90" y="1207.30" width="4.00" height="2" fill="#000"/><rect x="290.90" y="1210.45" width="6.00" height="2" fill="#000"/><rect x="289.90" y="1213.60" width="8.00" height="2" fill="#000"/><rect x="288.90" y="1216.75" width="10.00" height="2" fill="#000"/><rect x="287.90" y="1219.90" width="12.00" height="2" fill="#000"/><rect x="286.90" y="1223.05" width="14.00" height="2" fill="#000"/><rect x="285.90" y="1226.20" width="16.00" height="2" fill="#000"/><rect x="284.90" y="1229.35" width="18.00" height="2" fill="#000"/><rect x="283.90" y="1232.50" width="20.00" height="2" fill="#000"/><rect x="282.90" y="1235.65" width="22.00" height="2" fill="#000"/><rect x="281.90" y="1238.80" width="24.00" height="2" fill="#000"/><rect x="280.90" y="1241.95" width="26.00" height="2" fill="#000"/><rect x="279.90" y="1245.10" width="28.00" height="2" fill="#000"/><rect x="278.90" y="1248.25" width="30.00" height="2" fill="#000"/><rect x="277.90" y="1251.40" width="32.00" height="2" fill="#000"/><rect x="276.90" y="1254.55" width="34.00" height="2" fill="#000"/><rect x="275.90" y="1257.70" width="36.00" height="2" fill="#000"/><rect x="274.90" y="1260.85" width="38.00" height="2" fill="#000"/><rect x="273.90" y="1264.00" width="40.00" height="2" fill="#000"/><circle cx="88.4" cy="1215.8" r="9.5" fill="#fff" stroke="#1a1630" stroke-width="1.3"/><polygon points="79.19,1215.80 85.55,1213.73 85.55,1207.04 89.49,1212.45 95.86,1210.38 91.92,1215.80 95.86,1221.22 89.49,1219.15 85.55,1224.56 85.55,1217.87" fill="#111"/><circle cx="138.5" cy="1215.8" r="9.5" fill="#fff" stroke="#1a1630" stroke-width="1.3"/><polygon points="129.28,1215.80 135.65,1213.73 135.65,1207.04 139.59,1212.45 145.96,1210.38 142.02,1215.80 145.96,1221.22 139.59,1219.15 135.65,1224.56 135.65,1217.87" fill="#111"/><circle cx="186.4" cy="1215.8" r="9.5" fill="#fff" stroke="#1a1630" stroke-width="1.3"/><polygon points="177.19,1215.80 183.55,1213.73 183.55,1207.04 187.49,1212.45 193.86,1210.38 189.92,1215.80 193.86,1221.22 187.49,1219.15 183.55,1224.56 183.55,1217.87" fill="#111"/><circle cx="232.2" cy="1215.8" r="9.5" fill="#fff" stroke="#1a1630" stroke-width="1.3"/><polygon points="222.98,1215.80 229.35,1213.73 229.35,1207.04 233.29,1212.45 239.66,1210.38 235.72,1215.80 239.66,1221.22 233.29,1219.15 229.35,1224.56 229.35,1217.87" fill="#111"/><circle cx="354.4" cy="1214.7" r="9.5" fill="#fff" stroke="#1a1630" stroke-width="1.3"/><polygon points="345.19,1214.70 351.55,1212.63 351.55,1205.94 355.49,1211.35 361.86,1209.28 357.92,1214.70 361.86,1220.12 355.49,1218.05 351.55,1223.46 351.55,1216.77" fill="#111"/><circle cx="401.8" cy="1214.7" r="9.5" fill="#fff" stroke="#1a1630" stroke-width="1.3"/><polygon points="392.59,1214.70 398.95,1212.63 398.95,1205.94 402.89,1211.35 409.26,1209.28 405.32,1214.70 409.26,1220.12 402.89,1218.05 398.95,1223.46 398.95,1216.77" fill="#111"/><circle cx="450.5" cy="1214.7" r="9.5" fill="#fff" stroke="#1a1630" stroke-width="1.3"/><polygon points="441.29,1214.70 447.65,1212.63 447.65,1205.94 451.59,1211.35 457.96,1209.28 454.02,1214.70 457.96,1220.12 451.59,1218.05 447.65,1223.46 447.65,1216.77" fill="#111"/><circle cx="498.7" cy="1214.7" r="9.5" fill="#fff" stroke="#1a1630" stroke-width="1.3"/><polygon points="489.49,1214.70 495.85,1212.63 495.85,1205.94 499.79,1211.35 506.16,1209.28 502.22,1214.70 506.16,1220.12 499.79,1218.05 495.85,1223.46 495.85,1216.77" fill="#111"/><circle cx="88.4" cy="1335.6" r="9.5" fill="#fff" stroke="#1a1630" stroke-width="1.3"/><polygon points="79.19,1335.60 85.55,1333.53 85.55,1326.84 89.49,1332.25 95.86,1330.18 91.92,1335.60 95.86,1341.02 89.49,1338.95 85.55,1344.36 85.55,1337.67" fill="#111"/><circle cx="87.5" cy="1455.4" r="9.5" fill="#fff" stroke="#1a1630" stroke-width="1.3"/><polygon points="78.28,1455.40 84.65,1453.33 84.65,1446.64 88.59,1452.05 94.96,1449.98 91.02,1455.40 94.96,1460.82 88.59,1458.75 84.65,1464.16 84.65,1457.47" fill="#111"/><circle cx="119.5" cy="1392.3" r="9.5" fill="#fff" stroke="#1a1630" stroke-width="1.3"/><polygon points="110.28,1392.30 116.65,1390.23 116.65,1383.54 120.59,1388.95 126.96,1386.88 123.02,1392.30 126.96,1397.72 120.59,1395.65 116.65,1401.06 116.65,1394.37" fill="#111"/><circle cx="496.6" cy="1332.4" r="9.5" fill="#fff" stroke="#1a1630" stroke-width="1.3"/><polygon points="487.39,1332.40 493.75,1330.33 493.75,1323.64 497.69,1329.05 504.06,1326.98 500.12,1332.40 504.06,1337.82 497.69,1335.75 493.75,1341.16 493.75,1334.47" fill="#111"/><circle cx="496.6" cy="1454.2" r="9.5" fill="#fff" stroke="#1a1630" stroke-width="1.3"/><polygon points="487.39,1454.20 493.75,1452.13 493.75,1445.44 497.69,1450.85 504.06,1448.78 500.12,1454.20 504.06,1459.62 497.69,1457.55 493.75,1462.96 493.75,1456.27" fill="#111"/><circle cx="466.8" cy="1392" r="9.5" fill="#fff" stroke="#1a1630" stroke-width="1.3"/><polygon points="457.59,1392.00 463.95,1389.93 463.95,1383.24 467.89,1388.65 474.26,1386.58 470.32,1392.00 474.26,1397.42 467.89,1395.35 463.95,1400.76 463.95,1394.07" fill="#111"/><circle cx="258" cy="1335.6" r="8.6" fill="#141210"/><circle cx="330.6" cy="1335.6" r="8.6" fill="#141210"/><circle cx="258" cy="1372.7" r="8.6" fill="#141210"/><circle cx="330.6" cy="1372.7" r="8.6" fill="#141210"/><circle cx="258" cy="1416.2" r="8.6" fill="#141210"/><circle cx="330.6" cy="1416.2" r="8.6" fill="#141210"/><circle cx="258" cy="1455.4" r="8.6" fill="#141210"/><circle cx="330.6" cy="1455.4" r="8.6" fill="#141210"/><circle cx="62.9" cy="1552.3" r="8.6" fill="#141210"/><circle cx="85.8" cy="1552.3" r="8.6" fill="#141210"/><circle cx="113" cy="1552.3" r="8.6" fill="#141210"/><circle cx="137" cy="1552.3" r="8.6" fill="#141210"/><circle cx="161" cy="1552.3" r="8.6" fill="#141210"/><circle cx="185.6" cy="1552.3" r="8.6" fill="#141210"/><circle cx="210" cy="1552.3" r="8.6" fill="#141210"/><circle cx="233.5" cy="1552.3" r="8.6" fill="#141210"/><circle cx="351" cy="1552.3" r="8.6" fill="#141210"/><circle cx="374.8" cy="1552.3" r="8.6" fill="#141210"/><circle cx="400.2" cy="1552.3" r="8.6" fill="#141210"/><circle cx="425.6" cy="1552.3" r="8.6" fill="#141210"/><circle cx="451" cy="1552.3" r="8.6" fill="#141210"/><circle cx="474.9" cy="1552.3" r="8.6" fill="#141210"/><circle cx="498.7" cy="1552.3" r="8.6" fill="#141210"/><circle cx="522.6" cy="1552.3" r="8.6" fill="#141210"/><rect x="290.80" y="1514.00" width="4.00" height="2" fill="#000"/><rect x="290.80" y="1517.05" width="4.00" height="2" fill="#000"/><rect x="290.80" y="1520.10" width="4.00" height="2" fill="#000"/><rect x="289.80" y="1523.15" width="6.00" height="2" fill="#000"/><rect x="288.80" y="1526.20" width="8.00" height="2" fill="#000"/><rect x="287.80" y="1529.25" width="10.00" height="2" fill="#000"/><rect x="286.80" y="1532.30" width="12.00" height="2" fill="#000"/><rect x="285.80" y="1535.35" width="14.00" height="2" fill="#000"/><rect x="284.80" y="1538.40" width="16.00" height="2" fill="#000"/><rect x="283.80" y="1541.45" width="18.00" height="2" fill="#000"/><rect x="282.80" y="1544.50" width="20.00" height="2" fill="#000"/><rect x="281.80" y="1547.55" width="22.00" height="2" fill="#000"/><rect x="280.80" y="1550.60" width="24.00" height="2" fill="#000"/><rect x="279.80" y="1553.65" width="26.00" height="2" fill="#000"/><rect x="278.80" y="1556.70" width="28.00" height="2" fill="#000"/><rect x="277.80" y="1559.75" width="30.00" height="2" fill="#000"/><rect x="276.80" y="1562.80" width="32.00" height="2" fill="#000"/><rect x="275.80" y="1565.85" width="34.00" height="2" fill="#000"/><rect x="274.80" y="1568.90" width="36.00" height="2" fill="#000"/><rect x="273.80" y="1571.95" width="38.00" height="2" fill="#000"/><rect x="272.80" y="1575.00" width="40.00" height="2" fill="#000"/><rect x="268" y="1626.1" width="50" height="3.8" fill="#0c0c24"/><rect x="278.5" y="1620" width="30" height="16" fill="#fdfbf5" stroke="#15132a" stroke-width="1.4"/><rect x="292.7" y="1620" width="1.6" height="16" fill="#111"/><circle cx="63.4" cy="1623.5" r="9.5" fill="#fff" stroke="#1a1630" stroke-width="1.3"/><polygon points="54.19,1623.50 60.55,1621.43 60.55,1614.74 64.49,1620.15 70.86,1618.08 66.92,1623.50 70.86,1628.92 64.49,1626.85 60.55,1632.26 60.55,1625.57" fill="#111"/><circle cx="114.3" cy="1623.5" r="9.5" fill="#fff" stroke="#1a1630" stroke-width="1.3"/><polygon points="105.08,1623.50 111.45,1621.43 111.45,1614.74 115.39,1620.15 121.76,1618.08 117.82,1623.50 121.76,1628.92 115.39,1626.85 111.45,1632.26 111.45,1625.57" fill="#111"/><circle cx="162.7" cy="1623.5" r="9.5" fill="#fff" stroke="#1a1630" stroke-width="1.3"/><polygon points="153.48,1623.50 159.85,1621.43 159.85,1614.74 163.79,1620.15 170.16,1618.08 166.22,1623.50 170.16,1628.92 163.79,1626.85 159.85,1632.26 159.85,1625.57" fill="#111"/><circle cx="210.7" cy="1623.5" r="9.5" fill="#fff" stroke="#1a1630" stroke-width="1.3"/><polygon points="201.48,1623.50 207.85,1621.43 207.85,1614.74 211.79,1620.15 218.16,1618.08 214.22,1623.50 218.16,1628.92 211.79,1626.85 207.85,1632.26 207.85,1625.57" fill="#111"/><circle cx="380.2" cy="1623.5" r="9.5" fill="#fff" stroke="#1a1630" stroke-width="1.3"/><polygon points="370.99,1623.50 377.35,1621.43 377.35,1614.74 381.29,1620.15 387.66,1618.08 383.72,1623.50 387.66,1628.92 381.29,1626.85 377.35,1632.26 377.35,1625.57" fill="#111"/><circle cx="426.2" cy="1623.5" r="9.5" fill="#fff" stroke="#1a1630" stroke-width="1.3"/><polygon points="416.99,1623.50 423.35,1621.43 423.35,1614.74 427.29,1620.15 433.66,1618.08 429.72,1623.50 433.66,1628.92 427.29,1626.85 423.35,1632.26 423.35,1625.57" fill="#111"/><circle cx="475" cy="1623.5" r="9.5" fill="#fff" stroke="#1a1630" stroke-width="1.3"/><polygon points="465.79,1623.50 472.15,1621.43 472.15,1614.74 476.09,1620.15 482.46,1618.08 478.52,1623.50 482.46,1628.92 476.09,1626.85 472.15,1632.26 472.15,1625.57" fill="#111"/><circle cx="522.3" cy="1623.5" r="9.5" fill="#fff" stroke="#1a1630" stroke-width="1.3"/><polygon points="513.08,1623.50 519.45,1621.43 519.45,1614.74 523.39,1620.15 529.76,1618.08 525.82,1623.50 529.76,1628.92 523.39,1626.85 519.45,1632.26 519.45,1625.57" fill="#111"/><rect x="27.4" y="1683" width="47.2" height="49.5" fill="#000"/><circle cx="51" cy="1707.8" r="16.6" fill="none" stroke="#fff" stroke-width="2.7"/><rect x="103" y="1683" width="46" height="49.5" fill="#000"/><circle cx="126" cy="1707.8" r="16.6" fill="none" stroke="#fff" stroke-width="2.7"/><rect x="178" y="1683" width="42.8" height="49.5" fill="#000"/><circle cx="199.4" cy="1707.8" r="16.6" fill="none" stroke="#fff" stroke-width="2.7"/><rect x="368.8" y="1683" width="43.9" height="49.5" fill="#000"/><circle cx="390.75" cy="1707.8" r="16.6" fill="none" stroke="#fff" stroke-width="2.7"/><rect x="441" y="1683" width="43.7" height="49.5" fill="#000"/><circle cx="462.85" cy="1707.8" r="16.6" fill="none" stroke="#fff" stroke-width="2.7"/><rect x="513" y="1683" width="43.4" height="49.5" fill="#000"/><circle cx="534.7" cy="1707.8" r="16.6" fill="none" stroke="#fff" stroke-width="2.7"/><rect x="275.04" y="115.00" width="35.92" height="26.00" fill="#fff"/><polygon points="287.42,117.08 285.50,117.08 279.37,121.08 279.37,123.67 284.73,120.47 284.73,138.92 287.42,138.92"/><text x="293.00" y="138.92" font-size="30.5">4</text><rect x="159.54" y="63.60" width="35.92" height="26.00" fill="#fff"/><polygon points="171.92,65.68 170.00,65.68 163.87,69.68 163.87,72.27 169.23,69.07 169.23,87.52 171.92,87.52"/><text x="177.50" y="87.52" font-size="30.5">6</text><rect x="161.64" y="132.90" width="35.92" height="26.00" fill="#fff"/><polygon points="174.02,134.98 172.10,134.98 165.97,138.98 165.97,141.57 171.33,138.37 171.33,156.82 174.02,156.82"/><text x="179.60" y="156.82" font-size="30.5">5</text><rect x="390.54" y="63.60" width="35.92" height="26.00" fill="#fff"/><polygon points="402.92,65.68 401.00,65.68 394.87,69.68 394.87,72.27 400.23,69.07 400.23,87.52 402.92,87.52"/><text x="408.50" y="87.52" font-size="30.5">8</text><rect x="389.54" y="132.90" width="35.92" height="26.00" fill="#fff"/><polygon points="401.92,134.98 400.00,134.98 393.87,138.98 393.87,141.57 399.23,138.37 399.23,156.82 401.92,156.82"/><text x="407.50" y="156.82" font-size="30.5">7</text><rect x="243.04" y="303.30" width="35.92" height="26.00" fill="#fff"/><polygon points="255.42,305.38 253.50,305.38 247.37,309.38 247.37,311.97 252.73,308.77 252.73,327.22 255.42,327.22"/><text x="261.00" y="327.22" font-size="30.5">3</text><rect x="202.44" y="386.80" width="35.92" height="26.00" fill="#fff"/><polygon points="214.82,388.88 212.90,388.88 206.77,392.88 206.77,395.47 212.13,392.27 212.13,410.72 214.82,410.72"/><text x="220.40" y="410.72" font-size="30.5">0</text><rect x="324.74" y="387.10" width="35.92" height="26.00" fill="#fff"/><polygon points="337.12,389.18 335.20,389.18 329.07,393.18 329.07,395.77 334.43,392.57 334.43,411.02 337.12,411.02"/><text x="342.70" y="411.02" font-size="30.5">2</text><rect x="213.52" y="506.30" width="18.96" height="26.00" fill="#fff"/><text x="214.52" y="530.22" font-size="30.5">9</text><rect x="349.74" y="508.20" width="35.92" height="26.00" fill="#fff"/><polygon points="362.12,510.28 360.20,510.28 354.07,514.28 354.07,516.87 359.43,513.67 359.43,532.12 362.12,532.12"/><polygon points="379.08,510.28 377.15,510.28 371.02,514.28 371.02,516.87 376.39,513.67 376.39,532.12 379.08,532.12"/><rect x="284.82" y="517.30" width="18.96" height="26.00" fill="#fff"/><text x="285.82" y="541.22" font-size="30.5">8</text><rect x="283.02" y="685.50" width="18.96" height="26.00" fill="#fff"/><text x="284.02" y="709.42" font-size="30.5">7</text><rect x="173.62" y="649.90" width="18.96" height="26.00" fill="#fff"/><text x="174.62" y="673.82" font-size="30.5">a</text><rect x="391.22" y="650.70" width="18.96" height="26.00" fill="#fff"/><text x="392.22" y="674.62" font-size="30.5">b</text><rect x="284.42" y="1070.40" width="18.96" height="26.00" fill="#fff"/><text x="285.42" y="1094.32" font-size="30.5">6</text><rect x="150.42" y="1383.60" width="18.96" height="26.00" fill="#fff"/><text x="151.42" y="1407.52" font-size="30.5">5</text><rect x="283.02" y="1381.50" width="18.96" height="26.00" fill="#fff"/><text x="284.02" y="1405.42" font-size="30.5">3</text><rect x="416.72" y="1384.40" width="18.96" height="26.00" fill="#fff"/><text x="417.72" y="1408.32" font-size="30.5">4</text><rect x="284.52" y="1587.00" width="18.96" height="26.00" fill="#fff"/><text x="285.52" y="1610.92" font-size="30.5">2</text><rect x="287.52" y="1697.50" width="18.96" height="26.00" fill="#fff"/><polygon points="299.90,1699.58 297.98,1699.58 291.85,1703.58 291.85,1706.17 297.21,1702.97 297.21,1721.42 299.90,1721.42"/></g></svg>
<svg width="1239" height="1736" style="position:absolute;left:0;top:0">
<rect x="766" y="306" width="50" height="48" fill="#000"/><circle cx="791.2" cy="330" r="18" fill="none" stroke="#fff" stroke-width="3"/>
<circle cx="791.2" cy="428.7" r="14.5" fill="#fff" stroke="#111" stroke-width="1.6"/><polygon points="791.20,415.50 794.34,425.17 804.51,425.17 796.29,431.15 799.43,440.83 791.20,434.85 782.97,440.83 786.11,431.15 777.89,425.17 788.06,425.17" fill="#111"/>
<circle cx="792.1" cy="529.3" r="9.8" fill="#fff" stroke="#111" stroke-width="1.3"/><polygon points="792.10,520.30 794.23,526.86 801.14,526.86 795.55,530.92 797.68,537.49 792.10,533.43 786.52,537.49 788.65,530.92 783.06,526.86 789.97,526.86" fill="#111"/>
<circle cx="791.2" cy="629.3" r="8.9" fill="#141210"/>
<rect x="760.00" y="709.60" width="2" height="40.50" fill="#000"/><rect x="763.05" y="710.60" width="2" height="38.50" fill="#000"/><rect x="766.10" y="711.60" width="2" height="36.50" fill="#000"/><rect x="769.15" y="712.60" width="2" height="34.50" fill="#000"/><rect x="772.20" y="713.60" width="2" height="32.50" fill="#000"/><rect x="775.25" y="714.60" width="2" height="30.50" fill="#000"/><rect x="778.30" y="715.60" width="2" height="28.50" fill="#000"/><rect x="781.35" y="716.60" width="2" height="26.50" fill="#000"/><rect x="784.40" y="717.60" width="2" height="24.50" fill="#000"/><rect x="787.45" y="718.60" width="2" height="22.50" fill="#000"/><rect x="790.50" y="719.60" width="2" height="20.50" fill="#000"/><rect x="793.55" y="720.60" width="2" height="18.50" fill="#000"/><rect x="796.60" y="721.60" width="2" height="16.50" fill="#000"/><rect x="799.65" y="722.60" width="2" height="14.50" fill="#000"/><rect x="802.70" y="723.60" width="2" height="12.50" fill="#000"/><rect x="805.75" y="724.60" width="2" height="10.50" fill="#000"/><rect x="808.80" y="725.60" width="2" height="8.50" fill="#000"/><rect x="811.85" y="726.60" width="2" height="6.50" fill="#000"/><rect x="814.90" y="727.60" width="2" height="4.50" fill="#000"/><rect x="817.95" y="728.60" width="2" height="2.50" fill="#000"/><rect x="821.00" y="729.60" width="2" height="0.50" fill="#000"/>
<rect x="769" y="804.7" width="47.7" height="49.7" fill="#000"/>
<rect x="775.5" y="811" width="36" height="38" fill="#fff"/>
<path d="M775.5 811 L793.5 830 M811.5 811 L793.5 830 M811.5 849 L793.5 830 M793.5 811 V849 M793.5 830 H811.5" stroke="#111" stroke-width="1.6" fill="none"/>
<path d="M778 833 V849 M783 833 V849 M788 833 V849" stroke="#111" stroke-width="2.2"/>
<text x="770" y="841" font-size="19" font-family="Liberation Sans, sans-serif" fill="#000" text-anchor="middle" dominant-baseline="central" stroke="#fff" stroke-width="0.8" paint-order="stroke">s</text>
<rect x="768" y="927.7" width="45" height="5.3" fill="#111"/><rect x="775.3" y="921.6" width="31.6" height="16.9" fill="#fdfbf5" stroke="#111" stroke-width="1.4"/><rect x="790.3" y="921.6" width="1.4" height="16.9" fill="#111"/>
<rect x="777.7" y="1027.7" width="26" height="5.3" fill="#111"/><rect x="783" y="1023.4" width="15.9" height="14.5" fill="#fdfbf5" stroke="#111" stroke-width="1.4"/>
<rect x="784.5" y="1116.4" width="13.8" height="27.6" fill="#fff" stroke="#222" stroke-width="1.2"/><circle cx="791.2" cy="1123.7" r="1.6" fill="#111"/><circle cx="791.2" cy="1136" r="1.6" fill="#111"/>
<rect x="776.8" y="1204.7" width="11.7" height="50.3" fill="#000"/><rect x="783" y="1217" width="12.8" height="27.6" fill="#fff" stroke="#222" stroke-width="1.2"/><circle cx="788" cy="1224.5" r="1.6" fill="#111"/><circle cx="788" cy="1237" r="1.6" fill="#111"/>
<circle cx="791.2" cy="1331.1" r="9.2" fill="#fff" stroke="#111" stroke-width="1.3"/><text x="791.2" y="1331.6" font-size="13" font-family="Liberation Sans, sans-serif" text-anchor="middle" dominant-baseline="central" fill="#111">S</text>
</svg>

<div class="t" style="left:698px;top:-14px;font-size:68.5px;-webkit-text-stroke:0.9px #000;letter-spacing:0.4px;">Temple Sanctuary</div>
<div class="t" style="left:864px;top:87px;font-size:27.7px;">1 square = 10 feet</div>
<div class="t" style="left:752px;top:204px;font-size:37px;">KEY</div>
<div class="k" style="top:313.1px">Giant Pillar</div>
<div class="k" style="top:413.1px">Giant Statue</div>
<div class="k" style="top:513.5px">Statue</div>
<div class="k" style="top:613.1px">Column</div>
<div class="k" style="top:713.1px">Stairs</div>
<div class="k" style="top:813.5px">Secret Stairs</div>
<div class="k" style="top:913.1px">Double Door</div>
<div class="k" style="top:1013.1px">Door</div>
<div class="k" style="top:1113.5px">Altar</div>
<div class="k" style="top:1213.1px">Altar in Wall</div>
<div class="k" style="top:1305.4px;line-height:24px">Secret Trapdoor<br>in Floor</div>

</body></html>
